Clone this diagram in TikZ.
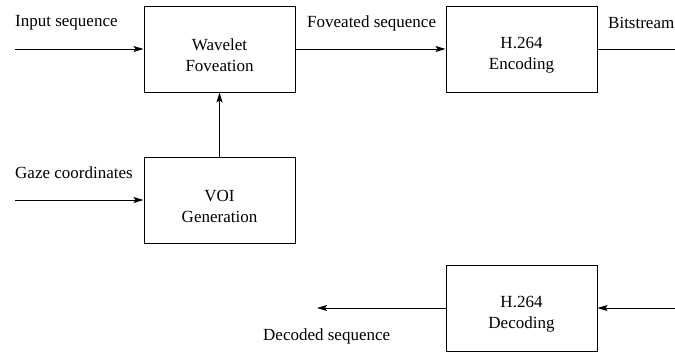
\documentclass[tikz,border=0pt]{standalone}
\usepackage{fontspec}
\setmainfont{Liberation Serif}
\usetikzlibrary{arrows.meta}
\begin{document}
\begin{tikzpicture}[x=1pt,y=-1pt,
  every node/.style={font=\fontsize{17}{21}\selectfont, inner sep=0pt},
  blk/.style={draw, line width=1pt, minimum width=151pt, minimum height=86pt},
  lbl/.style={align=center},
  txt/.style={anchor=west},
  conn/.style={line width=1pt, -{Stealth[length=10pt,width=6pt,inset=2pt]}},
  plain/.style={line width=1pt}]
\useasboundingbox (0,0) rectangle (675,351);
\node[blk] (wf) at (219.5,49) {};
\node[lbl] (wft) at ([yshift=-6pt]wf.center) {Wavelet\\Foveation};
\node[blk] (enc) at (521.5,49) {};
\node[lbl] (enct) at ([yshift=-6pt]enc.center) {H.264\\Encoding};
\node[blk] (voi) at (219.5,200) {};
\node[lbl] (voit) at ([yshift=-6pt]voi.center) {VOI\\Generation};
\node[blk] (dec) at (521.5,308) {};
\node[lbl] (dect) at ([yshift=-6pt]dec.center) {H.264\\Decoding};

\coordinate (in) at (15,49);
\coordinate (gz) at (15,200);
\coordinate (bs) at (676,49);
\coordinate (din) at (676,308);
\coordinate (dout) at (317,308);

\draw[conn] (in) -- (wf.west);
\draw[conn] (wf.east) -- (enc.west);
\draw[plain] (enc.east) -- (bs);
\draw[conn] (gz) -- (voi.west);
\draw[conn] (voi.north) -- (wf.south);
\draw[conn] (din) -- (dec.east);
\draw[conn] (dec.west) -- (dout);

\node[txt] (l1) at (15,23) {Input sequence};
\node[txt] (l2) at (307,23) {Foveated sequence};
\node[txt] (l3) at (608,23) {Bitstream};
\node[txt] (l4) at (15,173) {Gaze coordinates};
\node[txt] (l5) at (263,336) {Decoded sequence};
\end{tikzpicture}
\end{document}
